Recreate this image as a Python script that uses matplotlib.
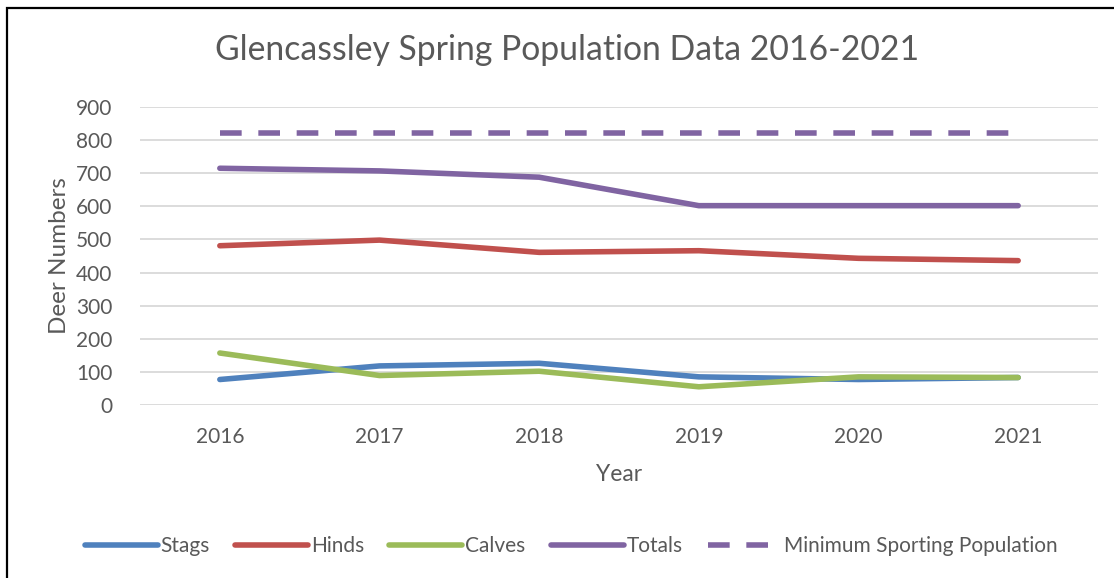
import matplotlib
matplotlib.use("Agg")
import matplotlib.pyplot as plt
from matplotlib.patches import Rectangle

# Spring deer counts, Glencassley
years = ["2016", "2017", "2018", "2019", "2020", "2021"]
stags = [77, 118, 126, 85, 77, 83]
hinds = [481, 498, 461, 466, 443, 436]
calves = [157, 89, 102, 55, 85, 83]
totals = [715, 707, 688, 602, 602, 602]
min_sporting = [822, 822, 822, 822, 822, 822]

y_ticks = [0, 100, 200, 300, 400, 500, 600, 700, 800, 900]

plt.rcParams["font.family"] = ["Lato", "DejaVu Sans"]
TEXT = "#595959"

W, H = 1114, 578
fig = plt.figure(figsize=(W / 100, H / 100), dpi=100)

# chart border (top/left edges inside the canvas)
fig.patches.append(Rectangle((7 / W, -0.1), 1.2, (H - 8) / H + 0.1,
                             transform=fig.transFigure, fill=False,
                             edgecolor="black", linewidth=1.6))

ax = fig.add_axes([140 / W, (H - 405) / H, (1098 - 140) / W, 298 / H])
x = range(len(years))

lw = 4.0
ax.plot(x, stags, color="#4F81BD", lw=lw, solid_capstyle="round", label="Stags")
ax.plot(x, hinds, color="#C0504D", lw=lw, solid_capstyle="round", label="Hinds")
ax.plot(x, calves, color="#9BBB59", lw=lw, solid_capstyle="round", label="Calves")
ax.plot(x, totals, color="#8064A2", lw=lw, solid_capstyle="round", label="Totals")
ax.plot(x, min_sporting, color="#8064A2", lw=lw, dashes=(3.9, 3.0),
        dash_capstyle="butt", label="Minimum Sporting Population")

ax.set_xlim(-0.5, len(years) - 0.5)
ax.set_ylim(0, 900)
ax.set_yticks(y_ticks)
ax.set_xticks(list(x))
ax.set_xticklabels(years)
ax.tick_params(length=0, labelsize=15, colors=TEXT)
ax.tick_params(axis="y", pad=20)
ax.tick_params(axis="x", pad=16)
ax.grid(axis="y", color="#D9D9D9", lw=1.3)
ax.set_axisbelow(True)
for s in ax.spines.values():
    s.set_visible(False)

ax.set_ylabel("Deer Numbers", fontsize=17.5, color=TEXT, labelpad=4)
ax.set_xlabel("Year", fontsize=16.5, color=TEXT, labelpad=12)

fig.text(567 / W, 1 - 50 / H, "Glencassley Spring Population Data 2016-2021",
         ha="center", va="center", fontsize=24.3, color=TEXT)

leg = fig.legend(loc="center", bbox_to_anchor=(571 / W, 1 - 546 / H), ncol=5,
                 frameon=False, fontsize=15, handlelength=3.5,
                 handletextpad=0.15, columnspacing=1.2, labelcolor=TEXT)

fig.savefig("out.png", dpi=100)
